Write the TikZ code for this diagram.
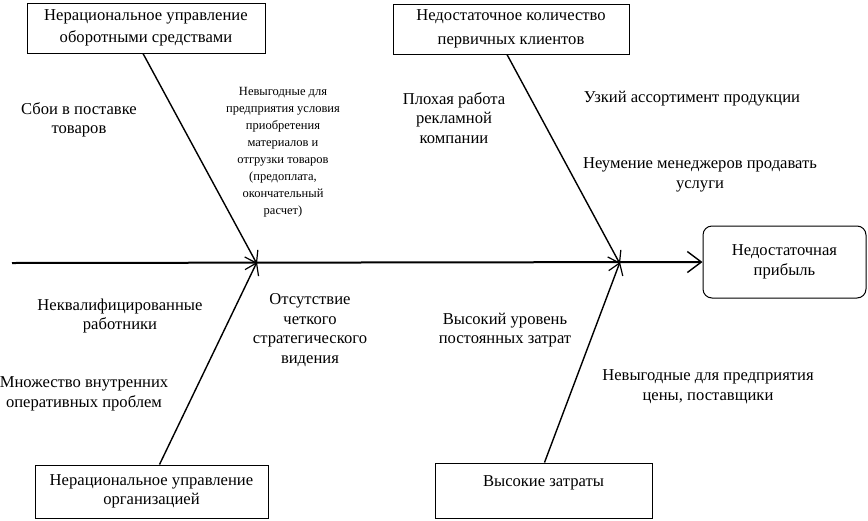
\documentclass[tikz,border=0pt]{standalone}
\usepackage{fontspec}
\setmainfont{Liberation Serif}
\usetikzlibrary{arrows.meta,calc}
\tikzset{
  causebox/.style={draw,line width=1pt,inner sep=2pt,align=center,font=\mainfs},
  effectbox/.style={draw,line width=1pt,rounded corners=9pt,align=center,font=\mainfs},
  lbl/.style={align=center,font=\mainfs,inner sep=0pt},
  smalllbl/.style={align=center,font=\smallfs,inner sep=0pt},
  branch/.style={line width=1.4pt,-{Straight Barb[length=11pt,width=15pt,line width=1.2pt]}},
  spine/.style={line width=2pt,-{Straight Barb[length=14pt,width=21pt,line width=1.4pt]}}
}
\newcommand{\mainfs}{\fontsize{16.6}{19.5}\selectfont}
\newcommand{\smallfs}{\fontsize{12.5}{17}\selectfont}
\begin{document}
\begin{tikzpicture}[x=1pt,y=-1pt]
\useasboundingbox (0,0) rectangle (868,520);
% cause boxes
\node[causebox,minimum width=238pt,minimum height=50pt] (b1) at (146,28) {Нерациональное управление\\[2.5pt]оборотными средствами};
\node[causebox,minimum width=236pt,minimum height=50pt] (b2) at (511,29) {Недостаточное количество\\[4pt]первичных клиентов};
\node[causebox,minimum width=233pt,minimum height=53pt] (b3) at (151.5,491.5) {Нерациональное управление\\организацией};
\node[causebox,minimum width=217pt,minimum height=55pt] (b4) at (543.5,490.5) {Высокие затраты\\\mbox{}};
% effect
\node[effectbox,minimum width=163pt,minimum height=72pt] (eff) at (784.5,262) {Недостаточная\\прибыль};
% spine
\coordinate (tail) at (12,263);
\coordinate (j1) at (257,263);
\coordinate (j2) at (620,263);
\draw[spine] (tail) -- (eff.west);
% branches
\draw[branch] ([xshift=-3pt]b1.south) -- ([yshift=-1pt]j1);
\draw[branch] ([xshift=-4pt]b2.south) -- ([yshift=-1pt]j2);
\draw[branch] ([xshift=8pt]b3.north) -- ([yshift=1pt]j1);
\draw[branch] ([xshift=1pt]b4.north) -- ([yshift=1pt]j2);
% labels
\node[lbl] (t1) at (79,120) {Сбои в поставке\\товаров};
\node[smalllbl] (t2) at (283,152) {Невыгодные для\\предприятия условия\\приобретения\\материалов и\\отгрузки товаров\\(предоплата,\\окончательный\\расчет)};
\node[lbl] (t3) at (454,118) {Плохая работа\\рекламной\\компании};
\node[lbl] (t4) at (692,99) {Узкий ассортимент продукции};
\node[lbl] (t5) at (700,175) {Неумение менеджеров продавать\\услуги};
\node[lbl] (t6) at (120,316) {Неквалифицированные\\работники};
\node[lbl] (t7) at (310,330) {Отсутствие\\четкого\\стратегического\\видения};
\node[lbl] (t8) at (84,394) {Множество внутренних\\оперативных проблем};
\node[lbl] (t9) at (505,330) {Высокий уровень\\постоянных затрат};
\node[lbl] (t10) at (708,387) {Невыгодные для предприятия\\цены, поставщики};
\end{tikzpicture}
\end{document}
